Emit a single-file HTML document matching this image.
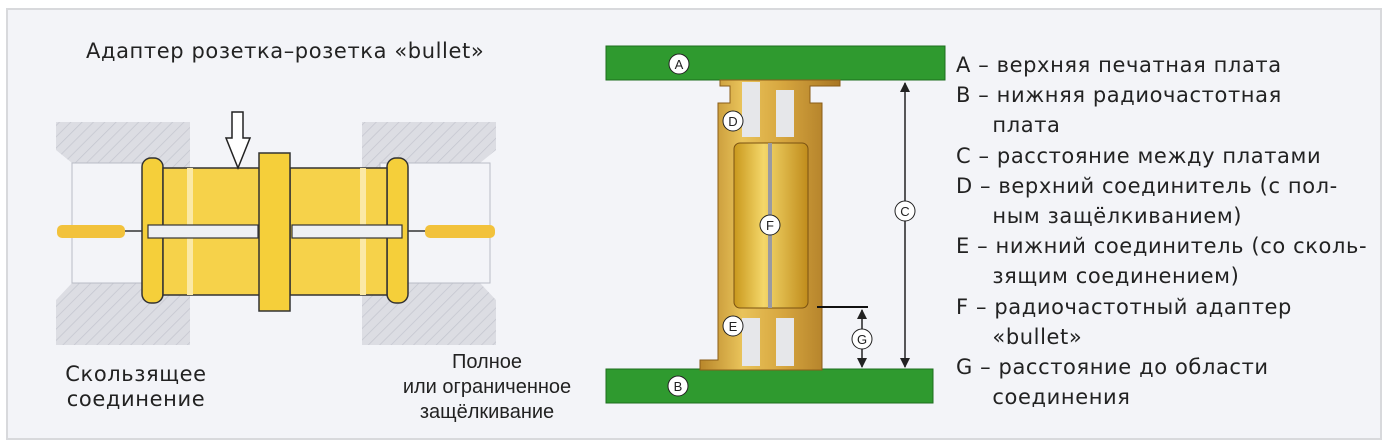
<!DOCTYPE html>
<html><head><meta charset="utf-8"><style>
body{margin:0;width:1387px;height:446px;background:#fff;overflow:hidden;font-family:"DejaVu Sans","Liberation Sans",sans-serif;}
#f{position:absolute;left:6px;top:8px;width:1372px;height:428px;background:#f3f4f8;border:2px solid #d8d9dc;}
.t{position:absolute;font-size:21px;letter-spacing:0.6px;color:#222;white-space:nowrap;line-height:22px;font-family:"DejaVu Sans",sans-serif}
</style></head><body>
<div id="f"></div>
<svg style="position:absolute;left:0;top:0" width="1387" height="446">
<defs>
<pattern id="h" width="8" height="8" patternUnits="userSpaceOnUse" patternTransform="rotate(45)"><rect width="8" height="8" fill="#dcdde3"/><line x1="0" y1="0" x2="0" y2="8" stroke="#c4c6cf" stroke-width="1.5"/></pattern>
<linearGradient id="g" x1="0" x2="1"><stop offset="0" stop-color="#b8862a"/><stop offset=".3" stop-color="#e9c35a"/><stop offset=".6" stop-color="#d6a53e"/><stop offset="1" stop-color="#a87624"/></linearGradient>
<linearGradient id="y" x1="0" x2="1"><stop offset="0" stop-color="#c9981d"/><stop offset=".4" stop-color="#f4d76a"/><stop offset="1" stop-color="#c08c1c"/></linearGradient>
</defs>
<path d="M56 122H190V345H56V300L72 283H135V163H72L56 150Z" fill="url(#h)"/>
<rect x="72" y="163" width="70" height="120" fill="#f3f4f8" stroke="#b9bcc6"/>
<path d="M362 122H496V150L480 163H425V283H480L496 300V345H362Z" fill="url(#h)"/>
<rect x="380" y="163" width="110" height="120" fill="#f3f4f8" stroke="#b9bcc6"/>
<rect x="57" y="225" width="68" height="13" rx="5" fill="#f2c23c"/>
<rect x="425" y="225" width="70" height="13" rx="5" fill="#f2c23c"/>
<line x1="125" y1="231" x2="425" y2="231" stroke="#333" stroke-width="1.5"/>
<rect x="142" y="158" width="21" height="145" rx="9" fill="#f5cf3a" stroke="#333" stroke-width="1.5"/>
<rect x="387" y="158" width="21" height="145" rx="9" fill="#f5cf3a" stroke="#333" stroke-width="1.5"/>
<rect x="163" y="168" width="97" height="127" fill="#f6d24a" stroke="#333" stroke-width="1.5"/>
<rect x="290" y="168" width="97" height="127" fill="#f6d24a" stroke="#333" stroke-width="1.5"/>
<rect x="187" y="168" width="6" height="127" fill="#fbe9a6"/>
<rect x="360" y="168" width="6" height="127" fill="#fbe9a6"/>
<rect x="259" y="153" width="31" height="158" fill="#f5cf3a" stroke="#333" stroke-width="1.5"/>
<rect x="148" y="225" width="110" height="13" fill="#eef0f4" stroke="#333" stroke-width="1.2"/>
<rect x="292" y="225" width="110" height="13" fill="#eef0f4" stroke="#333" stroke-width="1.2"/>
<path d="M232 112H243V138H250L238 168L226 138H232Z" fill="#fff" stroke="#222" stroke-width="1.5"/>
<rect x="606" y="46" width="339" height="34" fill="#2f9a2f" stroke="#1e6e1e"/>
<rect x="606" y="369" width="327" height="34" fill="#2f9a2f" stroke="#1e6e1e"/>
<path d="M720 80H840V86H810V103H822V370H700V360H718V103H730V86H720Z" fill="url(#g)" stroke="#8a5d18"/>
<rect x="742" y="82" width="18" height="55" fill="#e6e7ea"/><rect x="776" y="90" width="18" height="47" fill="#e6e7ea"/>
<rect x="742" y="318" width="18" height="48" fill="#e6e7ea"/><rect x="776" y="318" width="18" height="48" fill="#e6e7ea"/>
<rect x="734" y="143" width="74" height="165" rx="6" fill="url(#y)" stroke="#7a5212"/>
<rect x="768" y="143" width="4" height="165" fill="#9a9aa2"/>
<line x1="817" y1="307" x2="868" y2="307" stroke="#111" stroke-width="2"/>
<line x1="905" y1="83" x2="905" y2="367" stroke="#222" stroke-width="1.5"/>
<path d="M900 92L905 82L910 92Z M900 358L905 368L910 358Z" fill="#222"/>
<line x1="862" y1="310" x2="862" y2="367" stroke="#222" stroke-width="1.5"/>
<path d="M857 319L862 309L867 319Z M857 358L862 368L867 358Z" fill="#222"/>
<g font-family="Liberation Sans,sans-serif" font-size="13" text-anchor="middle" fill="#222">
<circle cx="679" cy="64" r="10" fill="#fff" stroke="#222"/><text x="679" y="69">A</text>
<circle cx="678" cy="386" r="10" fill="#fff" stroke="#222"/><text x="678" y="391">B</text>
<circle cx="733" cy="121" r="10" fill="#fff" stroke="#222"/><text x="733" y="126">D</text>
<circle cx="733" cy="326" r="10" fill="#fff" stroke="#222"/><text x="733" y="331">E</text>
<circle cx="770" cy="225" r="10" fill="#fff" stroke="#222"/><text x="770" y="230">F</text>
<circle cx="905" cy="211" r="10" fill="#fff" stroke="#222"/><text x="905" y="216">C</text>
<circle cx="862" cy="339" r="10" fill="#fff" stroke="#222"/><text x="862" y="344">G</text>
</g>
</svg>
<div class="t" style="left:86px;top:40px">Адаптер розетка–розетка «bullet»</div>
<div class="t" style="left:36px;top:362px;width:200px;text-align:center;line-height:25px">Скользящее<br>соединение</div>
<div class="t" style="left:367px;top:350px;text-align:center;line-height:25px;width:240px;letter-spacing:0;font-family:'Liberation Sans',sans-serif;font-size:20px">Полное<br>или ограниченное<br>защёлкивание</div>
<div class="t" style="left:956px;top:50px;line-height:30.2px">A – верхняя печатная плата<br>B – нижняя радиочастотная<br>&nbsp;&nbsp;&nbsp;&nbsp;&nbsp;плата<br>C – расстояние между платами<br>D – верхний соединитель (с пол-<br>&nbsp;&nbsp;&nbsp;&nbsp;&nbsp;ным защёлкиванием)<br>E – нижний соединитель (со сколь-<br>&nbsp;&nbsp;&nbsp;&nbsp;&nbsp;зящим соединением)<br>F – радиочастотный адаптер<br>&nbsp;&nbsp;&nbsp;&nbsp;&nbsp;«bullet»<br>G – расстояние до области<br>&nbsp;&nbsp;&nbsp;&nbsp;&nbsp;соединения</div>
</body></html>
